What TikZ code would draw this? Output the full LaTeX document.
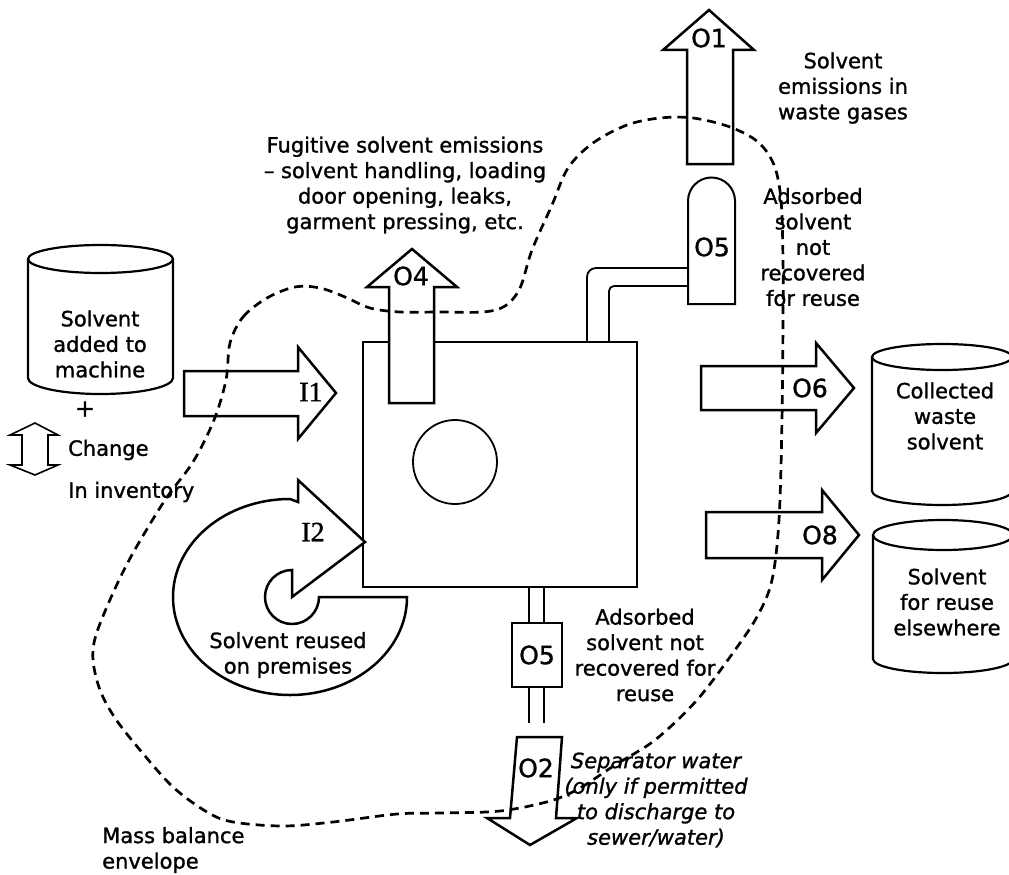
\documentclass[tikz,border=0pt]{standalone}
\usepackage{fontspec}
\setmainfont{DejaVu Sans}[FakeBold=1.2]
\newfontfamily\serifI{Liberation Serif}[FakeBold=1.2]
\tikzset{
  shp/.style={draw=black, line width=2.5pt, fill=white, line join=miter},
  thinln/.style={draw=black, line width=1.8pt},
  cyl/.style={draw=black, line width=2.2pt, fill=white},
  txt/.style={align=center, inner sep=0pt, font=\fontsize{21}{25.5}\selectfont},
  itxt/.style={align=center, inner sep=0pt, font=\itshape\fontsize{21}{25.5}\selectfont},
  lbl/.style={inner sep=0pt, font=\fontsize{25}{30}\selectfont},
  ilbl/.style={inner sep=0pt, font=\serifI\fontsize{28}{30}\selectfont},
  env/.style={draw=black, line width=2.7pt, dash pattern=on 9pt off 6pt},
}
\begin{document}
\begin{tikzpicture}[x=1pt, y=-1pt]
\clip (0,0) rectangle (1009,875);
\fill[white] (0,0) rectangle (1009,875);

% machine
\draw[thinln, fill=white] (363,342) rectangle (637,587);
\draw[thinln] (455,462) circle[radius=42];

% top pipe to O5
\draw[thinln, rounded corners=9] (688,268) -- (587,268) -- (587,342);
\draw[thinln, rounded corners=5] (688,286) -- (609,286) -- (609,342);
% top O5 capsule
\draw[shp, line width=2pt] (688,304) -- (688,201) arc[start angle=180, end angle=360, radius=23.5] -- (735,304) -- cycle;
\node[lbl] (o5t) at (712,247) {O5};

% O1 arrow
\draw[shp] (687,164) -- (687,50) -- (663,50) -- (709,10) -- (754,50) -- (733,50) -- (733,164) -- cycle;
\node[lbl] (o1) at (709,38) {O1};

% O4 arrow
\draw[shp] (389,403) -- (389,287) -- (367,287) -- (412,249) -- (457,287) -- (434,287) -- (434,403) -- cycle;
\node[lbl] (o4) at (411,276) {O4};

% bottom pipe, O5 and O2
\draw[thinln] (529,587) -- (529,623) (544,587) -- (544,623);
\draw[thinln] (529,687) -- (529,723) (544,687) -- (544,723);
\draw[shp, line width=2pt] (512,623) rectangle (562,687);
\node[lbl] (o5b) at (537,655) {O5};
\draw[shp] (517,737) -- (562,737) -- (556,818) -- (577,818) -- (530,845) -- (487,818) -- (510,818) -- cycle;
\node[lbl] (o2) at (536,768) {O2};

% I1 arrow
\draw[shp] (184,371) -- (298,371) -- (298,347) -- (336,393) -- (298,439) -- (298,416) -- (184,416) -- cycle;
\node[ilbl] (i1) at (311,392) {I1};

% I2 curved arrow
\draw[shp] (407,597) arc[start angle=0, end angle=270, x radius=117, y radius=98]
  -- (298,502) -- (298,480) -- (365,542) -- (292,597) -- (292,570)
  arc[start angle=270, end angle=0, radius=27] -- cycle;
\node[ilbl] (i2) at (313,532) {I2};

% O6, O8 arrows
\draw[shp] (701,366) -- (816,366) -- (816,343) -- (854,388) -- (816,433) -- (816,410) -- (701,410) -- cycle;
\node[lbl] (o6) at (810,388) {O6};
\draw[shp] (706,512) -- (822,512) -- (822,490) -- (859,535) -- (822,580) -- (822,558) -- (706,558) -- cycle;
\node[lbl] (o8) at (820,535) {O8};

% cylinders
\draw[cyl] (28,259) -- (28,378) arc[start angle=180, end angle=0, x radius=72.5, y radius=16] -- (173,259);
\draw[cyl] (100.5,259) ellipse[x radius=72.5, y radius=14];
\draw[cyl] (872,357) -- (872,491) arc[start angle=180, end angle=0, x radius=70, y radius=14] -- (1012,357);
\draw[cyl] (942,357) ellipse[x radius=70, y radius=13];
\draw[cyl] (873,535) -- (873,659) arc[start angle=180, end angle=0, x radius=70, y radius=14] -- (1013,535);
\draw[cyl] (943,535) ellipse[x radius=70, y radius=15];

% change in inventory
\draw[thinln, line width=1.6pt, fill=white] (22,435) -- (10,435) -- (35,423) -- (58,435) -- (48,435) -- (48,465) -- (58,465) -- (35,475) -- (10,465) -- (22,465) -- cycle;
\node[txt, font=\fontsize{24}{25.5}\selectfont] (plus) at (85,409) {+};
\node[txt, anchor=west] (chg) at (68,450) {Change};
\node[txt, anchor=west] (inv) at (68,492) {In inventory};

% texts
\node[txt] (add) at (100,344) {Solvent\\added to\\machine};
\node[txt] (fug) at (405,185) {Fugitive solvent emissions\\– solvent handling, loading\\door opening, leaks,\\garment pressing, etc.};
\node[txt] (waste) at (843,88) {Solvent\\emissions in\\waste gases};
\node[txt] (adst) at (813,247) {Adsorbed\\solvent\\not\\recovered\\for reuse};
\node[txt] (adsb) at (645,655) {Adsorbed\\solvent not\\recovered for\\reuse};
\node[itxt] (sep) at (656,800) {Separator water\\(only if permitted\\to discharge to\\sewer/water)};
\node[txt] (coll) at (945,416) {Collected\\waste\\solvent};
\node[txt] (reuse) at (947,602) {Solvent\\for reuse\\elsewhere};
\node[txt] (prem) at (288,655) {Solvent reused\\on premises};
\node[txt, anchor=west, align=left] (mass) at (102,850) {Mass balance\\envelope};

% mass balance envelope
\draw[env] plot[smooth cycle, tension=0.55] coordinates {
 (230,343) (243,317) (267,298) (295,287) (320,288) (345,297) (370,308) (400,312)
 (440,312) (483,312) (505,306) (520,288) (532,250) (552,205) (568,168) (593,143)
 (627,125) (660,118) (693,118) (730,127) (758,142) (774,165) (781,200) (783,260)
 (783,320) (782,420) (779,520) (772,580) (758,615) (735,650) (697,700) (655,740)
 (615,765) (580,788) (550,801) (500,811) (440,813) (397,814) (333,822) (283,826)
 (233,822) (207,812) (173,787) (140,750) (115,718) (100,690) (93,660) (96,635)
 (113,593) (133,553) (165,500) (193,462) (214,420) (226,380)};
\end{tikzpicture}
\end{document}
